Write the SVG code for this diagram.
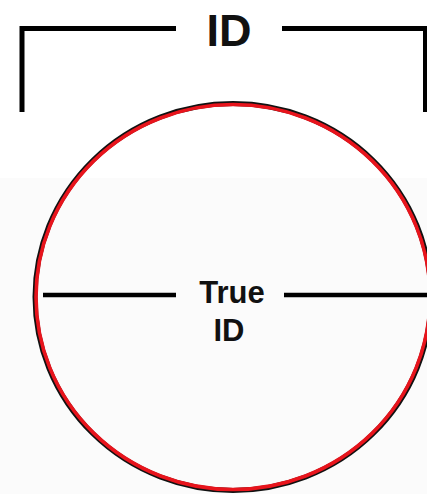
<svg xmlns="http://www.w3.org/2000/svg" width="427" height="494" viewBox="0 0 427 494">
<style>
.ln{stroke:#000;fill:none;stroke-linecap:butt}
.lbl{font-family:"Liberation Sans",Arial,sans-serif;font-weight:bold;fill:#111;text-anchor:middle}
</style>
<rect width="427" height="494" fill="#fff"/>
<rect y="178" width="427" height="316" fill="#fbfbfb"/>
<g id="connectors">
<path class="ln" d="M22,112 V28.5 H176" stroke-width="5"/>
<path class="ln" d="M282,28.5 H425.5 V112" stroke-width="5"/>
<path class="ln" d="M43,295 H176" stroke-width="4.5"/>
<path class="ln" d="M284,295 H427" stroke-width="4.5"/>
</g>
<g id="circle">
<ellipse cx="233" cy="297" rx="198" ry="193.5" fill="none" stroke="#111" stroke-width="5"/>
<ellipse cx="233" cy="297" rx="197" ry="192.5" fill="none" stroke="#e8141c" stroke-width="3.6"/>
</g>
<g id="id-label">
<text class="lbl" x="229" y="46" font-size="45">ID</text>
</g>
<g id="true-id-label">
<text class="lbl" x="232" y="303" font-size="31">True</text>
<text class="lbl" x="229" y="341" font-size="31">ID</text>
</g>
</svg>
